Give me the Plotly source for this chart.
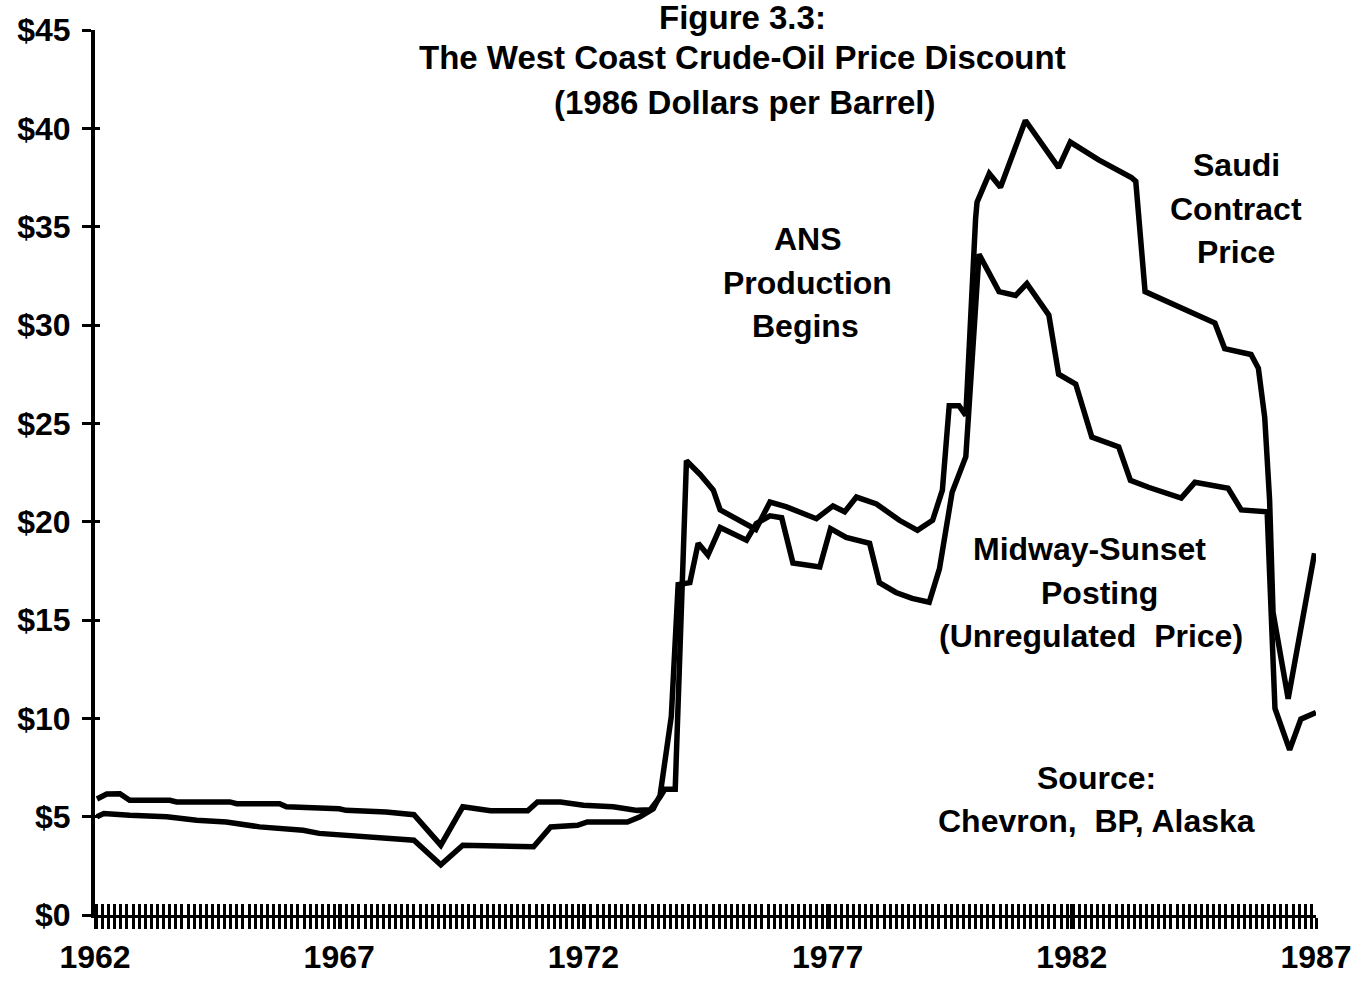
import plotly.graph_objects as go

# ---------------- data (1986 dollars per barrel) ----------------
saudi_years = [1962.04, 1962.24, 1962.51, 1962.71, 1963.53, 1963.67, 1964.76, 1964.90,
               1965.78, 1965.92, 1967.00, 1967.14, 1967.96, 1968.53, 1969.08, 1969.53,
               1970.10, 1970.86, 1971.06, 1971.53, 1972.00, 1972.61, 1973.10, 1973.37,
               1973.57, 1973.67, 1973.88, 1974.11, 1974.39, 1974.66, 1974.80, 1975.07,
               1975.34, 1975.53, 1975.82, 1976.16, 1976.77, 1977.11, 1977.35, 1977.59,
               1978.00, 1978.47, 1978.84, 1979.15, 1979.35, 1979.45, 1979.49, 1979.69,
               1979.83, 1980.03, 1980.06, 1980.31, 1980.54, 1981.05, 1981.73, 1981.97,
               1982.55, 1983.22, 1983.31, 1983.50, 1984.39, 1984.93, 1985.13, 1985.67,
               1985.82, 1985.95, 1986.05, 1986.12, 1986.43, 1986.69, 1986.97]
saudi_price = [5.90, 6.15, 6.17, 5.83, 5.83, 5.75, 5.75, 5.66,
               5.66, 5.50, 5.40, 5.32, 5.24, 5.10, 3.55, 5.50,
               5.30, 5.30, 5.75, 5.75, 5.58, 5.50, 5.32, 5.35,
               6.00, 6.40, 6.40, 23.1, 22.4, 21.6, 20.6, 20.2,
               19.8, 19.6, 21.0, 20.75, 20.15, 20.8, 20.5, 21.25,
               20.9, 20.07, 19.56, 20.07, 21.6, 25.1, 25.9, 25.9,
               25.4, 35.4, 36.25, 37.7, 37.0, 40.4, 38.0, 39.3,
               38.4, 37.5, 37.3, 31.7, 30.7, 30.1, 28.8, 28.5,
               27.8, 25.3, 21.1, 15.4, 11.0, 14.4, 18.4]

midway_years = [1962.04, 1962.18, 1962.71, 1963.47, 1964.08, 1964.69, 1965.37, 1966.26,
                1966.59, 1967.41, 1967.96, 1968.53, 1969.08, 1969.53, 1970.98, 1971.33,
                1971.88, 1972.08, 1972.90, 1973.16, 1973.43, 1973.57, 1973.80, 1973.94,
                1974.18, 1974.35, 1974.55, 1974.80, 1975.34, 1975.54, 1975.82, 1976.06,
                1976.29, 1976.84, 1977.06, 1977.38, 1977.86, 1978.06, 1978.40, 1978.73,
                1979.08, 1979.29, 1979.55, 1979.83, 1980.10, 1980.51, 1980.85, 1981.08,
                1981.53, 1981.73, 1982.08, 1982.41, 1982.96, 1983.20, 1983.57, 1984.24,
                1984.52, 1985.20, 1985.47, 1986.00, 1986.16, 1986.46, 1986.69, 1987.00]
midway_price = [5.00, 5.16, 5.07, 5.00, 4.82, 4.73, 4.48, 4.31,
                4.15, 3.98, 3.90, 3.80, 2.55, 3.55, 3.47, 4.48,
                4.56, 4.73, 4.73, 5.00, 5.40, 6.08, 10.1, 16.8,
                16.9, 18.9, 18.3, 19.7, 19.06, 19.9, 20.3, 20.2,
                17.9, 17.7, 19.65, 19.2, 18.9, 16.9, 16.4, 16.1,
                15.9, 17.6, 21.5, 23.3, 33.6, 31.7, 31.5, 32.1,
                30.5, 27.5, 27.0, 24.3, 23.8, 22.1, 21.75, 21.2,
                22.0, 21.7, 20.6, 20.5, 10.5, 8.4, 9.96, 10.3]

x_tick_vals = [1962, 1967, 1972, 1977, 1982, 1987]
x_tick_text = ["1962", "1967", "1972", "1977", "1982", "1987"]
y_tick_vals = [0, 5, 10, 15, 20, 25, 30, 35, 40, 45]
y_tick_text = ["$0", "$5", "$10", "$15", "$20", "$25", "$30", "$35", "$40", "$45"]

title_lines = ["Figure 3.3:", "The West Coast Crude-Oil Price Discount", "(1986 Dollars per Barrel)"]
ans_lines = ["ANS", "Production", "Begins"]
saudi_lines = ["Saudi", "Contract", "Price"]
midway_lines = ["Midway-Sunset", "Posting", "(Unregulated  Price)"]
source_lines = ["Source:", "Chevron,  BP, Alaska"]

# ---------------- layout geometry (page pixels; body margin removed) ----------------
W, H = 1364, 987
PLOT_LEFT, PLOT_RIGHT, PLOT_TOP, PLOT_BOTTOM = 95, 1326, 13, 935
L, T, R, B = PLOT_LEFT, PLOT_TOP, W - PLOT_RIGHT, H - PLOT_BOTTOM
FONT = "Liberation Sans, Arial, sans-serif"
FS = 32


# text spots read on the reference, expressed as fractions of its plot box
# (reference box: x 93..1318 px, y 27..917 px)
def ref_dom(px, py):
    return (px - 93) / 1225.0, (917 - py) / 890.0


fig = go.Figure()
line_style = dict(color="black", width=5.5)
fig.add_trace(go.Scatter(x=saudi_years, y=saudi_price, mode="lines", line=line_style,
                         name="Saudi Contract Price", xaxis="x", yaxis="y"))
fig.add_trace(go.Scatter(x=midway_years, y=midway_price, mode="lines", line=line_style,
                         name="Midway-Sunset Posting", xaxis="x2", yaxis="y2"))

common_x = dict(range=[1962, 1987], showgrid=False, zeroline=False,
                tickmode="array", tickvals=x_tick_vals, ticktext=x_tick_text)
common_y = dict(range=[0, 45], showgrid=False, zeroline=False,
                tickmode="array", tickvals=y_tick_vals, ticktext=y_tick_text)
tick_font = dict(family=FONT, size=FS, color="black", weight="bold")

fig.update_layout(
    width=W, height=H,
    margin=dict(l=L, r=R, t=T, b=B, pad=0),
    paper_bgcolor="white", plot_bgcolor="white",
    showlegend=False,
    font=dict(family=FONT, size=FS, color="black"),
    xaxis=dict(**common_x, showline=True, linecolor="black", linewidth=3,
               ticks="outside", ticklen=11, tickwidth=3, tickcolor="black",
               minor=dict(dtick=0.125, tick0=1962.03, ticks="outside", ticklen=11,
                          tickwidth=3, tickcolor="black"),
               showticklabels=True, ticklabelstandoff=1, ticklabeloverflow="allow",
               tickfont=tick_font, anchor="y"),
    yaxis=dict(**common_y, showline=True, linecolor="black", linewidth=4,
               ticks="outside", ticklen=9, tickwidth=3, tickcolor="black",
               showticklabels=True, ticklabelstandoff=5, ticklabeloverflow="allow",
               tickfont=tick_font, anchor="x"),
    xaxis2=dict(**common_x, overlaying="x", matches="x", anchor="y2", side="bottom",
                showline=False, ticks="inside", ticklen=11, tickwidth=3, tickcolor="black",
                minor=dict(dtick=0.125, tick0=1962.03, ticks="inside", ticklen=11,
                           tickwidth=3, tickcolor="black"),
                showticklabels=False),
    yaxis2=dict(**common_y, overlaying="y", matches="y", anchor="x2", side="left",
                showline=False, ticks="inside", ticklen=5, tickwidth=3, tickcolor="black",
                showticklabels=False),
)

annots = []


def add_lines(lines, positions, size=FS):
    for text, (px, py) in zip(lines, positions):
        xd, yd = ref_dom(px, py)
        annots.append(dict(text=text, x=xd, y=yd, xref="x domain", yref="y domain",
                           xanchor="center", yanchor="middle", showarrow=False,
                           font=dict(family=FONT, size=size, color="black", weight="bold")))


add_lines(title_lines, [(743, 14), (743, 55), (745, 100)], size=33)
add_lines(ans_lines, [(808, 237), (808, 281), (806, 325)])
add_lines(saudi_lines, [(1238, 163), (1238, 207), (1238, 250)])
add_lines(midway_lines, [(1091, 549), (1101, 593), (1092, 636)])
add_lines(source_lines, [(1098, 779), (1098, 822)])
fig.update_layout(annotations=annots)

fig.write_html("out.html",
               config={"displayModeBar": False},
               post_script="document.body.style.margin='0';document.body.style.padding='0';")
